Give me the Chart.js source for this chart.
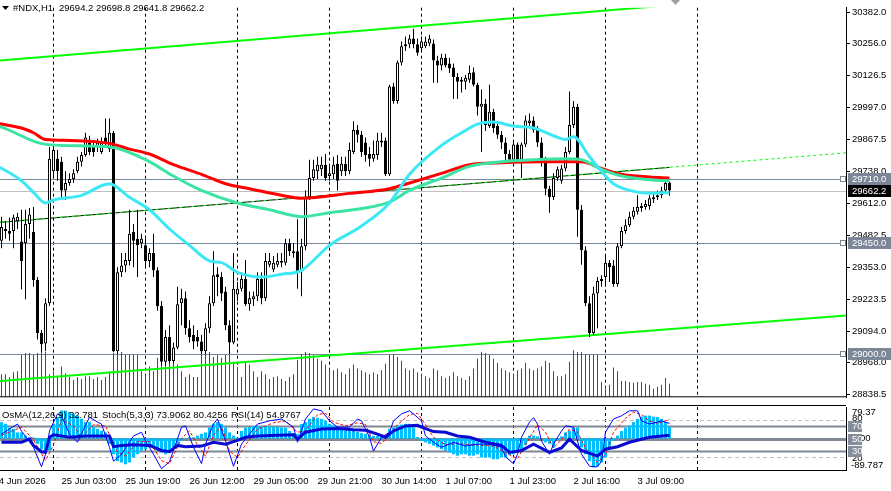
<!DOCTYPE html>
<html>
<head>
<meta charset="utf-8">
<script src="https://cdn.jsdelivr.net/npm/chart.js@4.4.0/dist/chart.umd.min.js"></script>
<style>
html, body { margin: 0; padding: 0; background: #fff; overflow: hidden; }
#wrap { position: relative; width: 891px; height: 491px; }
#c1 { position: absolute; left: 0; top: 0; }
#c2 { position: absolute; left: 0; top: 405px; }
</style>
</head>
<body>
<div id="wrap">
  <canvas id="c1" width="891" height="405"></canvas>
  <canvas id="c2" width="891" height="86"></canvas>
</div>
<script>
// #NDX H1 candles, bar 0 = 24 Jun 11:00
var O = [29460,29507,29499,29499,29538,29456,29449,29527,29495,29301,
29087,29044,29207,29740,29791,29779,29663,29693,29709,29740,
29779,29806,29857,29838,29838,29818,29877,29830,29896,29013,
29332,29359,29378,29495,29468,29449,29441,29378,29410,29340,
29196,28970,29071,28974,29028,29207,29227,29106,29080,29071,
29052,29013,29106,29207,29324,29313,29254,29118,29048,29242,
29266,29305,29203,29223,29235,29305,29227,29363,29343,29363,
29378,29371,29449,29417,29417,29340,29437,29635,29713,29740,
29748,29767,29721,29728,29771,29740,29771,29740,29818,29907,
29888,29857,29810,29791,29806,29857,29865,29728,30083,30024,
30180,30246,30254,30277,30254,30238,30246,30257,30257,30188,
30168,30199,30176,30160,30121,30102,30102,30110,30141,30090,
30001,30013,29923,29981,29923,29888,29857,29810,29787,29849,
29787,29849,29935,29946,29907,29857,29791,29670,29635,29713,
29702,29752,29818,29927,30001,29585,29421,29207,29087,29246,
29297,29313,29371,29359,29285,29437,29499,29522,29557,29577,
29592,29596,29600,29627,29635,29643,29663,29694.2];
var H = [29557,29538,29553,29566,29573,29585,29585,29592,29596,29313,
29099,29227,29838,29845,29826,29799,29740,29732,29748,29799,
29818,29896,29884,29857,29872,29877,29954,29954,29903,29352,
29410,29410,29585,29527,29585,29488,29468,29429,29488,29352,
29216,29099,29118,29048,29274,29266,29254,29138,29118,29099,
29080,29126,29235,29417,29352,29332,29274,29138,29410,29293,
29332,29382,29254,29254,29332,29332,29410,29410,29398,29410,
29410,29468,29468,29449,29546,29468,29663,29787,29787,29799,
29799,29810,29760,29799,29806,29799,29799,29857,29942,29927,
29903,29877,29838,29865,29896,29896,29877,30090,30098,30188,
30265,30285,30292,30316,30277,30285,30285,30292,30273,30207,
30215,30215,30199,30176,30137,30121,30129,30168,30160,30098,
30071,30032,30090,29993,29942,29903,29877,29826,29857,29857,
29857,29966,29974,29962,29923,29877,29799,29682,29732,29760,
29767,29838,30063,30024,30013,29604,29437,29235,29274,29313,
29320,29398,29382,29382,29449,29515,29546,29577,29596,29643,
29612,29624,29643,29651,29663,29678,29702,29698.8];
var L = [29429,29468,29460,29429,29507,29262,29223,29468,29274,29060,
29009,29013,29196,29721,29702,29624,29624,29682,29693,29732,
29760,29799,29806,29799,29818,29810,29838,29818,29009,29002,
29313,29332,29359,29352,29313,29429,29352,29352,29313,29177,
28955,28955,28963,28963,29021,29118,29080,29048,29021,29032,
29002,29002,29087,29196,29235,29216,29099,29002,29041,29216,
29254,29196,29177,29196,29216,29203,29216,29352,29332,29352,
29352,29359,29398,29391,29266,29235,29421,29624,29702,29709,
29721,29702,29702,29709,29663,29721,29721,29728,29810,29857,
29799,29779,29760,29779,29787,29838,29721,29721,30013,30013,
30168,30226,30238,30238,30207,30226,30238,30246,30098,30098,
30149,30160,30137,30032,30032,30059,30071,30098,30083,29966,
29818,29903,29915,29896,29872,29830,29779,29771,29779,29779,
29713,29838,29915,29896,29838,29760,29643,29573,29624,29702,
29690,29740,29810,29915,29476,29363,29196,29071,29080,29106,
29274,29285,29293,29274,29274,29429,29488,29515,29546,29566,
29577,29585,29585,29612,29624,29631,29651,29641.8];
var C = [29515,29499,29488,29553,29557,29378,29527,29566,29301,29087,
29041,29207,29791,29826,29740,29663,29693,29709,29732,29779,
29806,29877,29818,29818,29857,29857,29857,29896,29013,29332,
29359,29382,29488,29460,29441,29468,29378,29410,29340,29196,
28970,29071,28974,29028,29203,29227,29106,29071,29052,29052,
29013,29106,29207,29320,29313,29246,29118,29048,29266,29266,
29305,29203,29227,29235,29305,29227,29378,29378,29371,29378,
29371,29449,29417,29410,29332,29437,29635,29713,29748,29767,
29767,29713,29732,29767,29702,29771,29740,29826,29907,29888,
29818,29806,29791,29810,29865,29865,29728,30083,30024,30180,
30246,30254,30277,30254,30219,30265,30265,30277,30188,30168,
30199,30168,30156,30121,30102,30110,30118,30137,30090,30001,
30013,29927,29981,29915,29888,29857,29810,29787,29849,29787,
29849,29946,29946,29907,29857,29779,29670,29635,29713,29748,
29752,29818,29927,30001,29585,29421,29207,29087,29246,29297,
29305,29371,29352,29285,29437,29499,29522,29557,29581,29596,
29600,29608,29631,29635,29643,29663,29693,29662.2];
var volume = [24,24,21,26,27,44,46,46,44,46,
47,47,24,27,21,32,25,21,18,21,
19,22,22,19,21,18,21,27,46,47,
47,44,44,44,44,27,24,32,27,41,
44,47,44,44,34,27,21,24,21,21,
44,47,47,42,44,41,44,44,37,31,
21,37,34,27,21,27,24,19,21,22,
19,17,21,24,39,45,47,46,44,40,
38,34,30,28,30,26,24,30,34,30,
28,26,24,26,24,28,35,44,45,42,
38,30,28,30,26,24,22,20,30,28,
22,20,22,26,22,20,18,22,30,40,
47,46,44,40,36,30,28,26,24,28,
30,36,30,28,30,32,38,36,27,22,
22,24,37,49,47,47,45,44,44,44,
16,11,13,31,27,17,17,16,15,16,
16,14,13,9,11,13,20,14];

// moving averages, [bar, price]
var maRed = [[-1,29934],[0,29931],[5,29915],[8,29896],[11,29869],[17,29865],[27,29853],[32,29830],[37,29810],[43,29767],[50,29728],[56,29690],[62,29670],[70,29643],[75,29631],[87,29651],[97,29670],[102,29693],[110,29732],[117,29767],[125,29775],[135,29779],[145,29779],[150,29752],[155,29728],[162,29717],[167,29713]];
var maTeal = [[-1,29923],[0,29919],[11,29849],[27,29838],[36,29787],[43,29721],[50,29663],[59,29612],[67,29585],[75,29557],[82,29573],[97,29616],[102,29663],[110,29713],[117,29760],[125,29779],[133,29787],[141,29791],[145,29787],[150,29748],[155,29721],[162,29706],[167,29702]];
var maCyan = [[-1,29760],[0,29752],[5,29702],[8,29655],[11,29612],[13,29624],[20,29643],[27,29690],[32,29635],[37,29585],[42,29507],[47,29441],[52,29378],[55,29371],[59,29332],[65,29313],[70,29324],[75,29340],[82,29441],[90,29519],[97,29612],[102,29728],[110,29845],[115,29896],[119,29931],[123,29939],[128,29923],[133,29915],[138,29884],[141,29869],[143,29880],[147,29799],[150,29740],[153,29690],[157,29663],[162,29651],[167,29655]];

// trend lines, [bar, price]
var trendUpper = [[-0.375,30188],[211.125,30470]];
var trendLower = [[-0.375,28893],[211.125,29157]];
var midSolid = [[-0.375,29534],[167,29756]];
var midDash = [[-0.375,29534],[211.125,29815]];
var hLevels = [29710.0, 29450.0, 29000.0];
var bidPrice = 29662.2;
var daySep = [13, 36, 59, 82, 105, 128, 151, 174];

var priceTicks = [30382.0,30256.0,30126.5,29997.0,29867.5,29738.0,29612.0,29482.5,29353.0,29223.5,29094.0,28968.0,28838.5];
var timeIdx = [-2, 15, 31, 47, 63, 79, 95, 111, 127, 143, 159];
var timeLabels = ['24 Jun 2026','25 Jun 03:00','25 Jun 19:00','26 Jun 12:00','29 Jun 05:00','29 Jun 21:00','30 Jun 14:00','1 Jul 07:00','1 Jul 23:00','2 Jul 16:00','3 Jul 09:00'];

// indicator window
var osma = [46,41,31,27,17,17,8,3,3,-15,
-30,-39,-34,41,60,78,78,74,69,64,
55,46,46,32,27,22,17,-15,-44,-63,
-67,-72,-67,-53,-44,-34,-30,-25,-25,-34,
-39,-44,-39,-25,-15,-6,-1,3,3,8,
13,17,31,41,46,41,31,17,8,2,
21,30,32,35,33,34,35,34,33,32,
31,30,21,15,13,41,46,55,60,58,
55,50,41,36,27,24,22,21,21,18,
15,13,10,7,7,4,3,27,31,36,
39,41,41,31,4,-6,-11,-15,-20,-25,
-30,-34,-39,-44,-48,-44,-44,-48,-48,-44,
-53,-53,-53,-58,-58,-53,-53,-46,-44,-38,
-32,-18,8,8,6,1,-11,-15,-25,-4,
6,17,22,30,31,-25,-44,-63,-81,-77,
-67,-53,-25,-6,8,21,30,36,46,55,
61,64,64,61,60,55,46,32.781];
var stochMain = [[0,57],[4,73],[5,62],[8,36],[10,5],[11,25],[12,62],[14,89],[15,86],[17,57],[19,44],[22,84],[24,76],[25,73],[27,36],[28,14],[30,25],[33,54],[35,60],[36,46],[38,25],[40,2],[42,13],[45,68],[46,70],[48,36],[50,10],[51,41],[53,73],[54,81],[56,46],[58,6],[60,41],[63,65],[64,73],[67,78],[70,81],[73,68],[74,44],[76,81],[78,97],[80,94],[82,78],[84,68],[87,68],[89,81],[90,78],[92,52],[93,30],[95,52],[97,60],[98,78],[100,89],[102,94],[103,89],[105,78],[106,54],[108,44],[110,36],[113,44],[116,38],[119,41],[122,41],[125,36],[126,21],[128,10],[129,25],[130,52],[132,76],[133,83],[134,73],[135,46],[137,25],[138,41],[140,62],[141,70],[143,68],[144,46],[145,25],[147,6],[149,5],[150,14],[151,60],[153,81],[155,86],[157,94],[159,94],[160,78],[162,73],[164,76],[165,78],[167,73.9062]];
var stochSignal = [[0,55],[5,68],[8,48],[11,15],[13,40],[15,80],[18,70],[20,52],[23,72],[26,70],[29,28],[31,22],[34,45],[37,45],[40,15],[42,10],[45,50],[47,62],[49,40],[51,22],[53,55],[55,70],[57,30],[59,20],[61,40],[64,65],[68,75],[71,78],[74,60],[76,62],[79,88],[81,90],[83,76],[86,70],[89,75],[91,72],[93,45],[95,42],[97,55],[99,72],[102,88],[104,90],[106,72],[108,52],[111,40],[114,42],[118,40],[123,38],[127,24],[129,18],[131,40],[134,72],[136,60],[138,35],[140,48],[142,65],[144,60],[146,35],[149,12],[151,25],[153,60],[156,82],[158,92],[160,88],[162,78],[164,74],[166,78],[167,80.4256]];
var rsi = [[0,44],[5,44],[7,49],[8,39],[10,29],[11,28],[12,52],[13,56],[17,52],[21,54],[25,54],[27,54],[28,37],[30,39],[33,40],[37,39],[40,31],[42,29],[44,39],[46,37],[50,38],[53,44],[56,41],[59,47],[61,52],[64,54],[69,55],[73,56],[74,49],[76,60],[80,65],[84,66],[88,64],[91,63],[94,57],[96,52],[98,62],[101,70],[104,71],[105,68],[108,61],[111,60],[114,54],[117,52],[121,44],[125,39],[127,28],[130,31],[133,41],[137,28],[140,35],[142,49],[145,31],[149,22],[151,33],[154,37],[157,44],[162,52],[167,54.9767]];
var indLevels = [80, 70, 50, 30, 20];

var FONT = "'Liberation Sans', Arial, sans-serif";
var X_MIN = -0.375, X_MAX = 211.125;

function xy(arr) { return arr.map(function (p) { return { x: p[0], y: p[1] }; }); }
function lineDs(arr, color, width, order, dash, axis) {
    return { type: 'line', data: xy(arr), borderColor: color, borderWidth: width, pointRadius: 0,
        fill: false, order: order, borderDash: dash || [], tension: 0, yAxisID: axis || 'y' };
}
function maDs(arr, color, order) {
    var d = lineDs(arr, color, 3, order);
    d.cubicInterpolationMode = 'monotone';
    return d;
}

var idx = O.map(function (_, i) { return i; });
var wicks = idx.map(function (i) { return { x: i, y: [L[i], H[i]] }; });
var bodies = idx.map(function (i) { return { x: i, y: [Math.min(O[i], C[i]), Math.max(O[i], C[i])] }; });
var bodyFill = idx.map(function (i) { return C[i] >= O[i] ? '#ffffff' : '#000000'; });

function drawSeparators(chart) {
    var ctx = chart.ctx, a = chart.chartArea, xs = chart.scales.x;
    ctx.save();
    ctx.strokeStyle = '#000';
    ctx.lineWidth = 1;
    ctx.setLineDash([3, 3]);
    daySep.forEach(function (d) {
        var px = Math.floor(xs.getPixelForValue(d)) + 0.5;
        ctx.beginPath(); ctx.moveTo(px, a.top); ctx.lineTo(px, a.bottom); ctx.stroke();
    });
    ctx.restore();
}

function boxText(ctx, text, x, y, w, h, bg, fg) {
    var yy = Math.round(y);
    ctx.fillStyle = bg;
    ctx.fillRect(x, yy - Math.floor(h / 2), w, h);
    ctx.fillStyle = fg;
    ctx.textAlign = 'left';
    ctx.textBaseline = 'middle';
    ctx.fillText(text, x + 4, yy + 0.5);
}

var mainDecor = {
    id: 'mainDecor',
    beforeDatasetsDraw: function (chart) {
        var ctx = chart.ctx, a = chart.chartArea, ys = chart.scales.y;
        drawSeparators(chart);
        ctx.save();
        ctx.lineWidth = 1;
        ctx.strokeStyle = '#778899';
        hLevels.forEach(function (v) {
            var py = Math.round(ys.getPixelForValue(v)) + 0.5;
            ctx.beginPath(); ctx.moveTo(a.left, py); ctx.lineTo(a.right, py); ctx.stroke();
        });
        ctx.strokeStyle = '#c0c0c0';
        var pb = Math.round(ys.getPixelForValue(bidPrice)) + 0.5;
        ctx.beginPath(); ctx.moveTo(a.left, pb); ctx.lineTo(a.right, pb); ctx.stroke();
        ctx.restore();
    },
    afterDraw: function (chart) {
        var ctx = chart.ctx, a = chart.chartArea, ys = chart.scales.y;
        ctx.save();
        ctx.font = '9.5px ' + FONT;
        hLevels.forEach(function (v) {
            var py = ys.getPixelForValue(v);
            boxText(ctx, v.toFixed(1), a.right + 2, py, 43, 12, '#7b8696', '#ffffff');
            ctx.fillStyle = '#fff';
            ctx.strokeStyle = '#778899';
            ctx.fillRect(a.right - 5, Math.round(py) - 2, 4, 4);
            ctx.strokeRect(a.right - 5.5, Math.round(py) - 2.5, 5, 5);
        });
        boxText(ctx, bidPrice.toFixed(1), a.right + 2, ys.getPixelForValue(bidPrice), 43, 12, '#000000', '#ffffff');

        // bottom frame
        ctx.strokeStyle = '#000';
        ctx.lineWidth = 1;
        ctx.beginPath(); ctx.moveTo(0, a.bottom - 0.5); ctx.lineTo(a.right, a.bottom - 0.5); ctx.stroke();

        // header
        ctx.fillStyle = '#000';
        ctx.beginPath(); ctx.moveTo(2, 6); ctx.lineTo(9, 6); ctx.lineTo(5.5, 10); ctx.closePath(); ctx.fill();
        ctx.textAlign = 'left';
        ctx.textBaseline = 'middle';
        ctx.fillText('#NDX,H1', 13, 8.5);
        ctx.fillText([O[167], H[167], L[167], C[167]].map(function (v) { return v.toFixed(1); }).join(' '), 59, 8.5);

        // shift marker
        ctx.fillStyle = '#a0a0a0';
        ctx.beginPath(); ctx.moveTo(671, 0); ctx.lineTo(680, 0); ctx.lineTo(675.5, 5); ctx.closePath(); ctx.fill();
        ctx.restore();
    }
};

new Chart(document.getElementById('c1'), {
    type: 'bar',
    data: {
        datasets: [
            { type: 'bar', data: volume.map(function (v, i) { return { x: i, y: v }; }), yAxisID: 'yv',
              backgroundColor: '#008000', barThickness: 1, grouped: false, inflateAmount: 0, order: 30 },
            lineDs(trendUpper, '#00ff00', 2, 20),
            lineDs(trendLower, '#00ff00', 2, 20),
            lineDs(midSolid, '#000000', 1, 19),
            lineDs(midDash, '#00ff00', 1, 18, [3, 3]),
            { type: 'bar', data: wicks, backgroundColor: '#000', barThickness: 1, grouped: false,
              inflateAmount: 0, order: 11 },
            { type: 'bar', data: bodies, backgroundColor: bodyFill, borderColor: '#000', borderWidth: 1,
              borderSkipped: false, barThickness: 3, grouped: false, minBarLength: 1, inflateAmount: 0, order: 10 },
            maDs(maRed, '#ff0000', 3),
            maDs(maTeal, '#3ce4a4', 2),
            maDs(maCyan, '#3ce8f4', 1)
        ]
    },
    options: {
        responsive: false,
        devicePixelRatio: 1,
        animation: false,
        layout: { padding: 0 },
        plugins: { legend: { display: false }, tooltip: { enabled: false } },
        scales: {
            x: { type: 'linear', min: X_MIN, max: X_MAX, offset: false, display: false },
            y: {
                position: 'right', min: 28826.8, max: 30401.4,
                afterFit: function (s) { s.width = 45; },
                afterBuildTicks: function (s) { s.ticks = priceTicks.map(function (v) { return { value: v }; }); },
                ticks: { autoSkip: false, padding: 2, color: '#000', font: { family: FONT, size: 9.5 },
                         callback: function (v) { return Number(v).toFixed(1); } },
                grid: { drawOnChartArea: false, tickLength: 4, color: '#000' },
                border: { color: '#000' }
            },
            yv: { display: false, min: 0, max: 405 }
        }
    },
    plugins: [mainDecor]
});

var indDecor = {
    id: 'indDecor',
    beforeDatasetsDraw: function (chart) {
        var ctx = chart.ctx, a = chart.chartArea, ys = chart.scales.y;
        drawSeparators(chart);
        ctx.save();
        indLevels.forEach(function (v) {
            var py = Math.round(ys.getPixelForValue(v)) + 0.5;
            if (v === 80 || v === 20) {
                ctx.strokeStyle = '#c0c0c0'; ctx.lineWidth = 1; ctx.setLineDash([4, 3]);
            } else if (v === 50) {
                ctx.strokeStyle = '#7f8893'; ctx.lineWidth = 3; ctx.setLineDash([]);
            } else {
                ctx.strokeStyle = '#7f8893'; ctx.lineWidth = 2; ctx.setLineDash([]);
            }
            ctx.beginPath(); ctx.moveTo(a.left, py); ctx.lineTo(a.right, py); ctx.stroke();
        });
        ctx.restore();
    },
    afterDraw: function (chart) {
        var ctx = chart.ctx, a = chart.chartArea, ys = chart.scales.y;
        ctx.save();
        ctx.strokeStyle = '#000';
        ctx.lineWidth = 1;
        ctx.beginPath(); ctx.moveTo(0, 0.5); ctx.lineTo(a.right, 0.5); ctx.stroke();
        ctx.font = '9.5px ' + FONT;
        ctx.fillStyle = '#000';
        ctx.textAlign = 'left';
        ctx.textBaseline = 'middle';
        ctx.fillText('OsMA(12,26,9) ' + osma[osma.length - 1].toFixed(3), 2, 10.5);
        ctx.fillText('Stoch(5,3,3) ' + stochMain[stochMain.length - 1][1].toFixed(4) + ' ' +
            stochSignal[stochSignal.length - 1][1].toFixed(4), 102, 10.5);
        ctx.fillText('RSI(14) ' + rsi[rsi.length - 1][1].toFixed(4), 231, 10.5);

        var lx = a.right + 6;
        ctx.fillText('79.37', lx, a.top + 5);
        ctx.fillText('80', lx, ys.getPixelForValue(80) - 1);
        ctx.fillText('0.00', lx, ys.getPixelForValue(50));
        ctx.fillText('20', lx, ys.getPixelForValue(20) + 1);
        ctx.fillText('-89.787', lx - 1, a.bottom - 5);
        [70, 50, 30].forEach(function (v) {
            boxText(ctx, String(v), a.right + 2, ys.getPixelForValue(v), 14, 11, '#848d99', '#ffffff');
        });
        ctx.restore();
    }
};

new Chart(document.getElementById('c2'), {
    type: 'bar',
    data: {
        datasets: [
            { type: 'bar', data: osma.map(function (v, i) { return { x: i, y: v }; }), yAxisID: 'yo',
              backgroundColor: '#00bfff', barThickness: 3, grouped: false, inflateAmount: 0, order: 10 },
            lineDs(stochSignal, '#ff0000', 1, 3, [3, 2]),
            lineDs(stochMain, '#0000ff', 1, 2),
            lineDs(rsi, '#0a0ad2', 3, 1)
        ]
    },
    options: {
        responsive: false,
        devicePixelRatio: 1,
        animation: false,
        layout: { padding: { top: 2, left: 0, right: 0, bottom: 0 } },
        plugins: { legend: { display: false }, tooltip: { enabled: false } },
        scales: {
            x: {
                type: 'linear', min: X_MIN, max: X_MAX, offset: false, position: 'bottom',
                afterFit: function (s) { s.height = 21; s.paddingLeft = 0; s.paddingRight = 0; },
                afterBuildTicks: function (s) { s.ticks = timeIdx.map(function (v) { return { value: v }; }); },
                ticks: { autoSkip: false, maxRotation: 0, minRotation: 0, align: 'start', padding: 6,
                         color: '#000', font: { family: FONT, size: 9.5 },
                         callback: function (v, i) { return timeLabels[i]; } },
                grid: { display: false, drawTicks: false },
                border: { display: true, color: '#000' }
            },
            y: {
                position: 'right', min: 0, max: 100,
                afterFit: function (s) { s.width = 45; },
                ticks: { display: false },
                grid: { display: false },
                border: { color: '#000' }
            },
            yo: { display: false, min: -88, max: 88 }
        }
    },
    plugins: [indDecor]
});
</script>
</body>
</html>
